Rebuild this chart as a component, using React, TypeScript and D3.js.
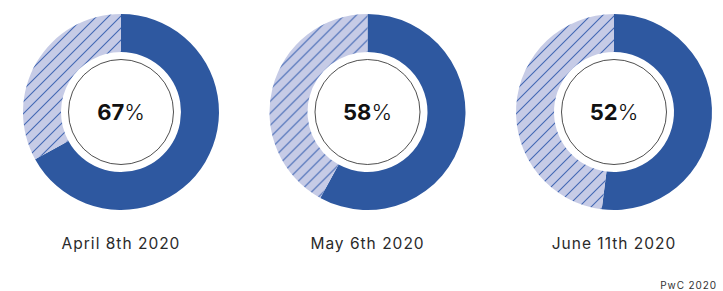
import React from "react";
import * as d3 from "d3";

const dates = ["April 8th 2020", "May 6th 2020", "June 11th 2020"];
const shares = [67, 58, 52];
const source = "PwC 2020";

const W = 723;
const H = 291;

export default function App() {
  const x = d3.scalePoint<string>().domain(dates).range([121, 614]);
  const cy = 112;
  const outerR = 98;
  const innerR = 60;
  const circleR = 52.5;
  const arc = d3.arc<any>().innerRadius(innerR).outerRadius(outerR);
  const pie = d3.pie<number>().sort(null).value((d) => d);

  return (
    <svg
      width={W}
      height={H}
      style={{ position: "absolute", left: 0, top: 0 }}
      fontFamily="Inter, 'Noto Sans', sans-serif"
    >
      <defs>
        <pattern id="hatch" width={12} height={12} patternUnits="userSpaceOnUse">
          <rect width={12} height={12} fill="#c6cbe6" />
          <path
            d="M-3,3 L3,-3 M0,12 L12,0 M9,15 L15,9"
            stroke="#4368b4"
            strokeWidth={1.1}
          />
        </pattern>
      </defs>
      <rect width={W} height={H} fill="#ffffff" />
      {dates.map((d, i) => {
        const arcs = pie([shares[i], 100 - shares[i]]);
        const cx = x(d)!;
        return (
          <g key={d} transform={`translate(${cx},${cy})`}>
            <path d={arc(arcs[0])!} fill="#2e58a0" />
            <path d={arc(arcs[1])!} fill="url(#hatch)" />
            <circle r={circleR} fill="#ffffff" stroke="#222" strokeWidth={0.8} />
            <text textAnchor="middle" y={8} fontSize={22} fill="#111">
              <tspan fontWeight={700}>{shares[i]}</tspan>
              <tspan fontWeight={300}>%</tspan>
            </text>
            <text
              textAnchor="middle"
              y={249 - cy}
              fontSize={15.5}
              letterSpacing={1}
              fill="#2a2a2a"
            >
              {d}
            </text>
          </g>
        );
      })}
      <text
        x={717}
        y={289}
        textAnchor="end"
        fontSize={10}
        letterSpacing={0.9}
        fill="#333"
      >
        {source}
      </text>
    </svg>
  );
}
